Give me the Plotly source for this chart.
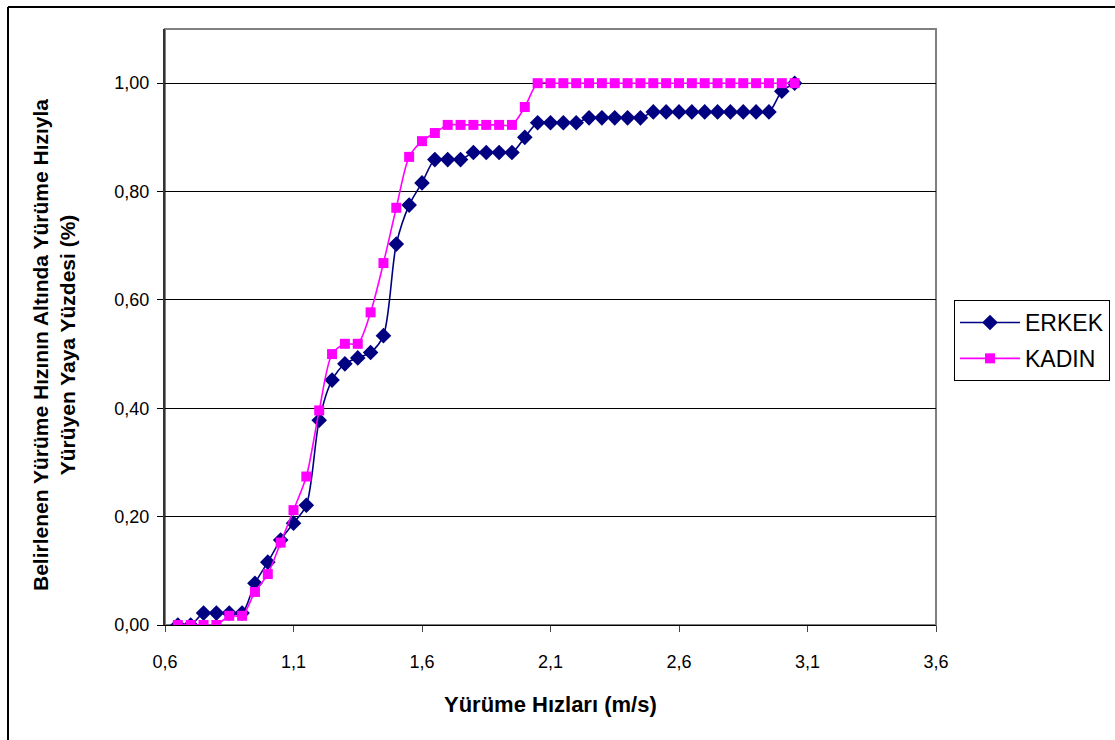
import plotly.graph_objects as go

speeds = [0.65, 0.70, 0.75, 0.80, 0.85, 0.90, 0.95, 1.00, 1.05, 1.10,
          1.15, 1.20, 1.25, 1.30, 1.35, 1.40, 1.45, 1.50, 1.55, 1.60,
          1.65, 1.70, 1.75, 1.80, 1.85, 1.90, 1.95, 2.00, 2.05, 2.10,
          2.15, 2.20, 2.25, 2.30, 2.35, 2.40, 2.45, 2.50, 2.55, 2.60,
          2.65, 2.70, 2.75, 2.80, 2.85, 2.90, 2.95, 3.00, 3.05]

erkek = [0.000, 0.000, 0.022, 0.022, 0.022, 0.022, 0.077, 0.116, 0.157, 0.188,
         0.221, 0.378, 0.452, 0.482, 0.493, 0.503, 0.534, 0.703, 0.775, 0.816,
         0.859, 0.859, 0.859, 0.872, 0.872, 0.872, 0.872, 0.900, 0.927, 0.927,
         0.927, 0.927, 0.936, 0.936, 0.936, 0.936, 0.936, 0.947, 0.947, 0.947,
         0.947, 0.947, 0.947, 0.947, 0.947, 0.947, 0.947, 0.985, 1.000]

kadin = [0.000, 0.000, 0.000, 0.000, 0.017, 0.017, 0.061, 0.094, 0.152, 0.212,
         0.274, 0.396, 0.500, 0.519, 0.519, 0.577, 0.668, 0.770, 0.864, 0.893,
         0.908, 0.923, 0.923, 0.923, 0.923, 0.923, 0.923, 0.956, 1.000, 1.000,
         1.000, 1.000, 1.000, 1.000, 1.000, 1.000, 1.000, 1.000, 1.000, 1.000,
         1.000, 1.000, 1.000, 1.000, 1.000, 1.000, 1.000, 1.000, 1.000]

x_ticks = [0.6, 1.1, 1.6, 2.1, 2.6, 3.1, 3.6]
y_ticks = [0.0, 0.2, 0.4, 0.6, 0.8, 1.0]

x_title = "<b>Yürüme Hızları (m/s)</b>"
y_title = "<b>Belirlenen Yürüme Hızının Altında Yürüme Hızıyla<br>Yürüyen Yaya Yüzdesi (%)</b>"

FONT = "Liberation Sans, Arial, sans-serif"

fig = go.Figure()
fig.add_trace(go.Scatter(
    x=speeds, y=erkek, name="ERKEK", mode="lines+markers", legendgroup="a",
    line=dict(color="#000080", width=1.6, shape="spline", smoothing=0.8),
    marker=dict(symbol="diamond", size=12, color="#000080"),
))
fig.add_trace(go.Scatter(
    x=speeds, y=kadin, name="KADIN", mode="lines+markers", legendgroup="b",
    line=dict(color="#FF00FF", width=1.6, shape="spline", smoothing=0.8),
    marker=dict(symbol="square", size=10, color="#FF00FF"),
))

W, H = 1115, 740
L, R, T, B = 165, 936, 29, 625
pw, ph = R - L, B - T

def px_to_paper_x(p):
    return (p - L) / pw

def px_to_paper_y(p):
    return (B - p) / ph

fig.update_layout(
    width=W, height=H,
    margin=dict(l=L, r=W - R, t=T, b=H - B, pad=0, autoexpand=False),
    paper_bgcolor="white", plot_bgcolor="white",
    separators=",.",
    font=dict(family=FONT, size=18, color="black"),
    showlegend=True,
    legend=dict(
        x=px_to_paper_x(954), y=px_to_paper_y(300),
        xanchor="left", yanchor="top",
        bordercolor="black", borderwidth=1, bgcolor="white",
        font=dict(family=FONT, size=23, color="black"),
        itemwidth=60, traceorder="grouped", tracegroupgap=3,
    ),
    xaxis=dict(
        range=[0.6, 3.6], tickvals=x_ticks, tickformat=".1f",
        showgrid=False, zeroline=False,
        showline=True, linecolor="black", linewidth=1,
        ticks="outside", ticklen=6, tickcolor="#444", tickwidth=1,
        ticklabelstandoff=14,
        tickfont=dict(family=FONT, size=18),
    ),
    yaxis=dict(
        range=[0, 1.1], tickvals=y_ticks, tickformat=".2f",
        showgrid=True, gridcolor="black", gridwidth=1, zeroline=False,
        showline=True, linecolor="#333", linewidth=2,
        ticks="outside", ticklen=6, tickcolor="black", tickwidth=1,
        ticklabelstandoff=4,
        tickfont=dict(family=FONT, size=18),
    ),
    annotations=[
        dict(text=x_title, xref="paper", yref="paper",
             x=px_to_paper_x(550), y=px_to_paper_y(704),
             xanchor="center", yanchor="middle", showarrow=False,
             font=dict(family=FONT, size=22)),
        dict(text=y_title, xref="paper", yref="paper",
             x=px_to_paper_x(54), y=px_to_paper_y(345),
             xanchor="center", yanchor="middle", showarrow=False,
             textangle=-90, align="center",
             font=dict(family=FONT, size=21)),
    ],
    shapes=[
        dict(type="rect", xref="paper", yref="paper", x0=0, x1=1, y0=0, y1=1,
             line=dict(color="#808080", width=2), layer="below"),
        dict(type="line", xref="paper", yref="paper",
             x0=px_to_paper_x(8), x1=px_to_paper_x(8),
             y0=px_to_paper_y(760), y1=px_to_paper_y(7),
             line=dict(color="black", width=2)),
        dict(type="line", xref="paper", yref="paper",
             x0=px_to_paper_x(8), x1=px_to_paper_x(1130),
             y0=px_to_paper_y(7), y1=px_to_paper_y(7),
             line=dict(color="black", width=2)),
    ],
)

fig.write_html("out.html")
